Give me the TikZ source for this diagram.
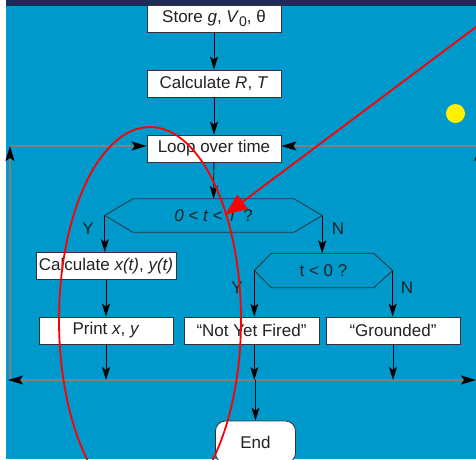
\documentclass[tikz,border=0pt]{standalone}
\usepackage{fontspec}
\setmainfont{Liberation Sans}
\usetikzlibrary{arrows.meta,calc}
\definecolor{bgblue}{HTML}{0099CC}
\definecolor{navy}{HTML}{1C2B58}
\definecolor{txt}{HTML}{222222}
\definecolor{edge}{HTML}{333333}
\definecolor{loopgray}{HTML}{808080}
\tikzset{
  box/.style={draw=edge, line width=0.8pt, fill=white, text=txt, inner sep=1pt,
              minimum height=27pt, font=\fontsize{17}{20}\selectfont},
  hexbase/.style={draw=none, text=txt, inner sep=0pt, font=\fontsize{17}{20}\selectfont},
  hexline/.style={draw=edge, line width=0.8pt},
  lbl/.style={text=txt, inner sep=0pt, font=\fontsize{17}{19}\selectfont},
  arr/.style={draw=black, line width=0.8pt, -{Stealth[length=13pt,width=8pt,inset=3pt]}},
  grayline/.style={draw=loopgray, line width=1.6pt},
  gtip/.style={-{Stealth[length=15pt,width=9pt,inset=3pt,color=black]}},
  redmark/.style={draw=red, line width=1.8pt},
}
\begin{document}
\begin{tikzpicture}[x=1pt,y=-1pt]
\useasboundingbox (0,0) rectangle (476,459);
\clip (0,0) rectangle (476,459);
% background
\fill[white] (0,0) rectangle (476,459);
\fill[bgblue] (6,5) rectangle (476,459);
\fill[navy] (6,0) rectangle (476,5.5);

% loop frame coordinates
\coordinate (tl) at (10,146);
\coordinate (tr) at (479,146);
\coordinate (blv) at (10,380);
\coordinate (brv) at (479,380);
\coordinate (bl) at (8,380);
\coordinate (br) at (476,380);

% nodes
\node[box, minimum width=134pt] (store) at (214,18.5) {Store \textit{g}, \textit{V}\raisebox{-0.35ex}{\fontsize{14}{16}\selectfont 0}, θ};
\node[box, minimum width=134pt] (calc) at (214,83.5) {Calculate \textit{R}, \textit{T}};
\node[box, minimum width=134pt] (loop) at (214,148.5) {Loop over time};

\node[hexbase, minimum width=217pt, minimum height=33pt] (d1) at (213.5,215.5) {\textit{0 < t < T} ?};
\draw[hexline] (d1.west) -- ([xshift=28pt]d1.north west) -- ([xshift=-28pt]d1.north east)
  -- (d1.east) -- ([xshift=-28pt]d1.south east) -- ([xshift=28pt]d1.south west) -- cycle;

\node[box, minimum width=140pt] (cxy) at (106,266) {Calculate \textit{x(t)}, \textit{y(t)}};

\node[hexbase, minimum width=138pt, minimum height=34pt] (d2) at (323.5,270.5) {t < 0 ?};
\draw[hexline] (d2.west) -- ([xshift=17pt]d2.north west) -- ([xshift=-19pt]d2.north east)
  -- (d2.east) -- ([xshift=-19pt]d2.south east) -- ([xshift=17pt]d2.south west) -- cycle;

\node[box, minimum width=134pt] (prt) at (106,330.5) {Print \textit{x}, \textit{y}};
\node[box, minimum width=135pt] (nyf) at (251.5,330.5) {“Not Yet Fired”};
\node[box, minimum width=134pt] (grd) at (393,330.5) {“Grounded”};

\node[box, rounded corners=10pt, minimum width=80pt, minimum height=42pt] (end) at (255.5,442) {End};

\node[lbl] (y1) at (88,229) {Y};
\node[lbl] (n1) at (338,229) {N};
\node[lbl] (y2) at (237,288) {Y};
\node[lbl] (n2) at (407,288) {N};

% gray loop frame
\draw[grayline, gtip] (blv) -- (tl);
\draw[grayline, gtip] (tl) -- (loop.west |- tl);
\draw[grayline, gtip] (tr) -- (loop.east |- tr);
\draw[grayline, gtip] (brv) -- (tr);
\draw[grayline, {Stealth[length=15pt,width=9pt,inset=3pt,color=black]}-{Stealth[length=15pt,width=9pt,inset=3pt,color=black]}] (bl) -- (br);

% connectors
\draw[arr] (store) -- (calc);
\draw[arr] (calc) -- (loop);
\draw[arr] (loop) -- (d1);
\draw[arr] (d1.west) -- (d1.west |- cxy.north);
\draw[arr] (d1.east) -- (d1.east |- d2.north);
\draw[arr] (cxy) -- (prt);
\draw[arr] (d2.west) -- (d2.west |- nyf.north);
\draw[arr] (d2.east) -- (d2.east |- grd.north);
\draw[arr] (prt.south) -- (prt.south |- bl);
\draw[arr] (d2.west |- nyf.south) -- (d2.west |- bl);
\draw[arr] (grd.south) -- (grd.south |- bl);
\draw[arr] (end.north |- bl) -- (end.north);

% overlays
\fill[yellow] (455.5,113.5) circle (9.5pt);
\draw[redmark] (150,320) ellipse [x radius=91pt, y radius=193pt];
\coordinate (rs) at (480,24);
\coordinate (re) at (225,215);
\draw[redmark, -{Triangle[length=22pt,width=17pt,color=red]}] (rs) -- (re);
\end{tikzpicture}
\end{document}
